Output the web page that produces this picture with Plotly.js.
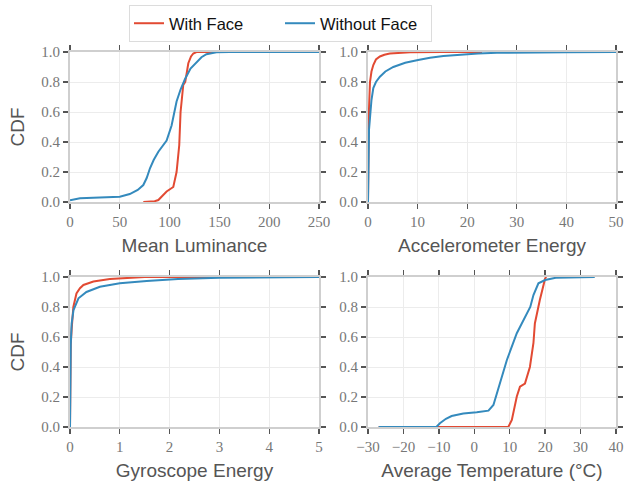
<!DOCTYPE html>
<html>
<head>
<meta charset="utf-8">
<script src="https://cdn.plot.ly/plotly-3.0.1.min.js"></script>
<style>html,body{margin:0;padding:0;background:#fff;}#chart{width:627px;height:485px;}</style>
</head>
<body>
<div id="chart"></div>
<script>
// Mean Luminance
const lumFaceX = [73.6, 85, 88.7, 93, 97, 103.7, 107, 109.7, 111, 113.7, 115.7, 118.8, 121.5, 123.8, 127, 250];
const lumFaceY = [0, 0.005, 0.013, 0.04, 0.07, 0.1, 0.2, 0.38, 0.6, 0.78, 0.8, 0.925, 0.97, 0.99, 1.0, 1.0];
const lumNoFaceX = [0, 10, 30, 50, 60, 68, 73.6, 77, 80.3, 84, 88.7, 97, 102, 107, 111, 115.5, 121, 127, 132, 137, 147, 160, 250];
const lumNoFaceY = [0.012, 0.025, 0.03, 0.035, 0.053, 0.08, 0.113, 0.16, 0.225, 0.28, 0.335, 0.41, 0.51, 0.67, 0.75, 0.82, 0.89, 0.935, 0.965, 0.985, 0.998, 1.0, 1.0];

// Accelerometer Energy
const accFaceX = [0, 0.05, 0.1, 0.2, 0.4, 0.7, 1.07, 1.6, 2.4, 3.3, 4.4, 6, 8.5, 15, 23];
const accFaceY = [0, 0.3, 0.5, 0.62, 0.8, 0.87, 0.913, 0.95, 0.97, 0.982, 0.99, 0.995, 0.998, 1.0, 1.0];
const accNoFaceX = [0, 0.05, 0.1, 0.2, 0.4, 0.7, 1.07, 1.6, 2.4, 3.5, 5.1, 7.5, 10.1, 12.5, 15.2, 18.5, 22.2, 26, 30, 40, 50];
const accNoFaceY = [0, 0.25, 0.4, 0.48, 0.56, 0.68, 0.76, 0.80, 0.835, 0.87, 0.90, 0.928, 0.947, 0.962, 0.973, 0.982, 0.99, 0.995, 0.997, 0.999, 1.0];

// Gyroscope Energy
const gyrFaceX = [0, 0.005, 0.015, 0.033, 0.067, 0.13, 0.2, 0.27, 0.47, 0.8, 1.14, 1.5, 5];
const gyrFaceY = [0, 0.3, 0.55, 0.65, 0.8, 0.89, 0.925, 0.947, 0.97, 0.987, 0.993, 1.0, 1.0];
const gyrNoFaceX = [0, 0.005, 0.015, 0.033, 0.07, 0.17, 0.33, 0.6, 1.0, 1.54, 2.17, 3.0, 4.0, 5];
const gyrNoFaceY = [0, 0.3, 0.55, 0.69, 0.78, 0.858, 0.90, 0.935, 0.958, 0.973, 0.987, 0.995, 0.999, 1.0];

// Average Temperature
const tmpFaceX = [-27, 9.6, 10.6, 12, 12.9, 14.3, 15.7, 16.7, 17.1, 18.5, 20, 20.3];
const tmpFaceY = [0, 0, 0.047, 0.203, 0.269, 0.29, 0.4, 0.56, 0.69, 0.847, 0.99, 1.0];
const tmpNoFaceX = [-27, -10.7, -9.7, -8, -6.4, -3.1, 0.7, 4.0, 5.4, 7.3, 9.2, 12.0, 15.8, 16.7, 18.1, 20, 23, 34];
const tmpNoFaceY = [0, 0, 0.025, 0.055, 0.073, 0.09, 0.098, 0.109, 0.147, 0.29, 0.447, 0.625, 0.80, 0.88, 0.958, 0.98, 0.995, 1.0];

const seriesNames = ["With Face", "Without Face"];
const colors = ["#E24A33", "#348ABD"];
const xTitles = ["Mean Luminance", "Accelerometer Energy", "Gyroscope Energy", "Average Temperature (°C)"];
const xRanges = [[0, 250], [0, 50], [0, 5], [-30, 40]];
const xDtick = [50, 10, 1, 10];
const yTicks = [0, 0.2, 0.4, 0.6, 0.8, 1.0];

const panels = [
  [lumFaceX, lumFaceY, lumNoFaceX, lumNoFaceY],
  [accFaceX, accFaceY, accNoFaceX, accNoFaceY],
  [gyrFaceX, gyrFaceY, gyrNoFaceX, gyrNoFaceY],
  [tmpFaceX, tmpFaceY, tmpNoFaceX, tmpNoFaceY]
];

const W = 627, H = 485;
const xDom = [[70 / W, 319 / W], [368 / W, 616 / W]];
const yDom = [[(H - 202) / H, (H - 52) / H], [(H - 427) / H, (H - 277) / H]];

const tickFont = {family: "'Liberation Serif', 'Times New Roman', 'DejaVu Serif', serif", size: 15, color: "#777"};
const titleFont = {family: "'Liberation Sans', Arial, sans-serif", size: 19, color: "#555"};

const traces = [];
const layout = {
  width: W, height: H,
  margin: {l: 0, r: 0, t: 0, b: 0},
  paper_bgcolor: "#fff", plot_bgcolor: "#fff",
  showlegend: true,
  legend: {
    orientation: "h", x: 129 / W, xanchor: "left", y: 1 - 5 / H, yanchor: "top",
    bordercolor: "#dcdcdc", borderwidth: 1, bgcolor: "#fff",
    font: {family: "'Liberation Sans', Arial, sans-serif", size: 16.5, color: "#111"},
    itemwidth: 30, entrywidth: 106
  }
};

panels.forEach((p, i) => {
  const n = i + 1;
  const xa = "x" + (n === 1 ? "" : n), ya = "y" + (n === 1 ? "" : n);
  for (let s = 0; s < 2; s++) {
    traces.push({
      x: p[2 * s], y: p[2 * s + 1], type: "scatter", mode: "lines",
      name: seriesNames[s], legendgroup: seriesNames[s], showlegend: i === 0,
      line: {color: colors[s], width: 2},
      xaxis: xa, yaxis: ya, hoverinfo: "skip"
    });
  }
  const row = Math.floor(i / 2), col = i % 2;
  const common = {
    showline: true, linecolor: "#cfcfcf", linewidth: 2, mirror: "ticks",
    ticks: "outside", ticklen: 5, tickwidth: 1.3, tickcolor: "#555",
    showgrid: true, gridcolor: "#ececec", gridwidth: 1, zeroline: false,
    tickfont: tickFont, fixedrange: true
  };
  layout["xaxis" + (n === 1 ? "" : n)] = Object.assign({}, common, {
    domain: xDom[col], anchor: ya, range: xRanges[i], dtick: xDtick[i], tick0: 0,
    title: {text: xTitles[i], font: titleFont, standoff: 10}
  });
  layout["yaxis" + (n === 1 ? "" : n)] = Object.assign({}, common, {
    domain: yDom[row], anchor: xa, range: [0, 1], tickvals: yTicks,
    ticktext: yTicks.map(v => v.toFixed(1)),
    title: col === 0 ? {text: "CDF", font: titleFont, standoff: 12} : {text: ""}
  });
});

Plotly.newPlot("chart", traces, layout, {displayModeBar: false, staticPlot: true});
</script>
</body>
</html>
